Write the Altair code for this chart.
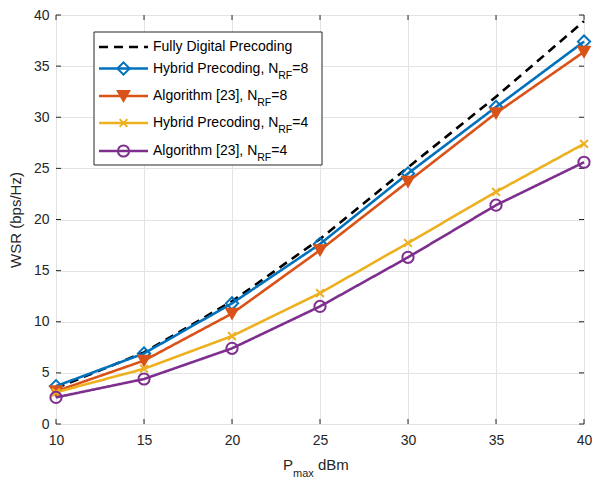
import altair as alt
import pandas as pd

# ---------------- data ----------------
p_max = [10, 15, 20, 25, 30, 35, 40]
fully_digital = [3.5, 7.0, 12.0, 18.1, 25.1, 32.0, 39.4]
hybrid_rf8 = [3.7, 6.9, 11.8, 17.6, 24.5, 31.0, 37.4]
algo_rf8 = [3.2, 6.2, 10.8, 17.0, 23.7, 30.4, 36.4]
hybrid_rf4 = [3.1, 5.4, 8.6, 12.8, 17.7, 22.7, 27.4]
algo_rf4 = [2.6, 4.4, 7.4, 11.5, 16.3, 21.4, 25.6]

x_ticks = [10, 15, 20, 25, 30, 35, 40]
y_ticks = [0, 5, 10, 15, 20, 25, 30, 35, 40]

series_keys = ["fd", "h8", "a8", "h4", "a4"]
series_values = [fully_digital, hybrid_rf8, algo_rf8, hybrid_rf4, algo_rf4]
legend_main = ["Fully Digital Precoding", "Hybrid Precoding, N", "Algorithm [23], N",
               "Hybrid Precoding, N", "Algorithm [23], N"]
legend_sub = ["", "RF", "RF", "RF", "RF"]
legend_tail = ["", "=8", "=8", "=4", "=4"]

# ---------------- styles ----------------
colors = ["#000000", "#0072BD", "#D95319", "#EDB120", "#7E2F8E"]
shapes = [None, "diamond", "triangle-down", "M-1,-1L1,1M-1,1L1,-1", "circle"]
filled = [False, False, True, False, False]
msize = [0, 150, 130, 60, 125]
FONT = "Liberation Sans"
AX = "#262626"
TOP = 7
LEFT = 48
W, H = 528, 409
OX = 8 + LEFT  # page x of plot left
OY = 8 + TOP   # page y of plot top

rows = []
for k, vals in zip(series_keys, series_values):
    for xv, yv in zip(p_max, vals):
        rows.append({"series": k, "x": xv, "y": yv})
df = pd.DataFrame(rows)
one = pd.DataFrame({"d": [0]})

xs = alt.Scale(domain=[10, 40], nice=False, zero=False)
ys = alt.Scale(domain=[0, 40], nice=False, zero=True)

x_axis = alt.Axis(values=x_ticks, grid=True, gridColor="#e3e3e3", gridWidth=1, domain=False,
                  ticks=False, tickSize=0, labelFont=FONT, labelFontSize=14, labelColor=AX,
                  labelPadding=9, title=None, labelFlush=False)
y_axis = alt.Axis(values=y_ticks, grid=True, gridColor="#e3e3e3", gridWidth=1, domain=False,
                  ticks=False, tickSize=0, labelFont=FONT, labelFontSize=14, labelColor=AX,
                  labelPadding=7, title="WSR (bps/Hz)", titleFont=FONT, titleFontSize=15,
                  titleFontWeight="normal", titleColor=AX, titleX=15 - OX, titleY=H / 2,
                  titleAngle=270, titleBaseline="middle", titleAlign="center", labelFlush=False)

AW = {" ": 278, ",": 278, "=": 584, "[": 278, "]": 278, "A": 667, "B": 667, "D": 722,
      "F": 611, "H": 722, "N": 722, "P": 667, "R": 722, "a": 556, "b": 556, "c": 500,
      "d": 556, "e": 556, "g": 556, "h": 556, "i": 222, "l": 222, "m": 833, "n": 556,
      "o": 556, "p": 556, "r": 333, "t": 278, "u": 556, "x": 500, "y": 500}


def tw(s, size):
    return sum(AW.get(c, 556) for c in s) * size / 1000.0


def X(f):
    return alt.X(f, scale=xs, axis=x_axis)


def Y(f):
    return alt.Y(f, scale=ys, axis=y_axis)


def px(page_x):
    return page_x - OX


def py(page_y):
    return page_y - OY


layers = []

# inward ticks
xt = pd.DataFrame({"t": x_ticks})
yt = pd.DataFrame({"t": y_ticks})
for y0, y1 in [(H, H - 5), (0, 5)]:
    layers.append(alt.Chart(xt).mark_rule(color=AX, strokeWidth=1).encode(
        x=X("t:Q"), y=alt.value(y0), y2=alt.value(y1)))
for x0, x1 in [(0, 5), (W, W - 5)]:
    layers.append(alt.Chart(yt).mark_rule(color=AX, strokeWidth=1).encode(
        y=Y("t:Q"), x=alt.value(x0), x2=alt.value(x1)))

# series
for i, k in enumerate(series_keys):
    base = alt.Chart(df).transform_filter(alt.datum.series == k)
    dash = [9, 6] if i == 0 else [1, 0]
    layers.append(base.mark_line(color=colors[i], strokeWidth=2.6, strokeDash=dash).encode(
        x=X("x:Q"), y=Y("y:Q")))
    if shapes[i]:
        kw = dict(shape=shapes[i], size=msize[i], strokeWidth=2, opacity=1)
        if filled[i]:
            kw.update(filled=True, fill=colors[i], stroke=colors[i], fillOpacity=1)
        else:
            kw.update(filled=False, stroke=colors[i], fill=None)
        layers.append(base.mark_point(**kw).encode(x=X("x:Q"), y=Y("y:Q")))

# legend (page coordinates converted to plot coordinates)
LX0, LX1, LY0, LY1 = px(94), px(322), py(32), py(165)
row_y = [py(v) for v in (47, 68.5, 96, 123, 151)]
layers.append(alt.Chart(one).mark_rect(fill="white", stroke=AX, strokeWidth=1).encode(
    x=alt.value(LX0), x2=alt.value(LX1), y=alt.value(LY0), y2=alt.value(LY1)))
TX = px(153)
for i in range(len(series_keys)):
    ry = row_y[i]
    dash = [9, 6] if i == 0 else [1, 0]
    layers.append(alt.Chart(one).mark_rule(color=colors[i], strokeWidth=2.6, strokeDash=dash).encode(
        x=alt.value(px(99)), x2=alt.value(px(148)), y=alt.value(ry)))
    if shapes[i]:
        kw = dict(shape=shapes[i], size=msize[i], strokeWidth=2, opacity=1)
        if filled[i]:
            kw.update(filled=True, fill=colors[i], stroke=colors[i], fillOpacity=1)
        else:
            kw.update(filled=False, stroke=colors[i], fill=None)
        layers.append(alt.Chart(one).mark_point(**kw).encode(x=alt.value(px(123.5)), y=alt.value(ry)))
    layers.append(alt.Chart(one).mark_text(
        text=legend_main[i], font=FONT, fontSize=14, color="#000000", align="left",
        baseline="middle").encode(x=alt.value(TX), y=alt.value(ry)))
    if legend_sub[i]:
        x2 = TX + tw(legend_main[i], 14)
        layers.append(alt.Chart(one).mark_text(
            text=legend_sub[i], font=FONT, fontSize=10.5, color="#000000", align="left",
            baseline="middle").encode(x=alt.value(x2), y=alt.value(ry + 7)))
        x3 = x2 + tw(legend_sub[i], 10.5)
        layers.append(alt.Chart(one).mark_text(
            text=legend_tail[i], font=FONT, fontSize=14, color="#000000", align="left",
            baseline="middle").encode(x=alt.value(x3), y=alt.value(ry)))

# x-axis title with subscript
PX = px(283)
layers.append(alt.Chart(one).mark_text(text="P", font=FONT, fontSize=15, color=AX, align="left",
                                       baseline="alphabetic").encode(x=alt.value(PX), y=alt.value(py(470))))
mx = PX + tw("P", 15)
layers.append(alt.Chart(one).mark_text(text="max", font=FONT, fontSize=11, color=AX, align="left",
                                       baseline="alphabetic").encode(x=alt.value(mx), y=alt.value(py(477))))
dx = mx + tw("max", 11) + tw(" ", 15)
layers.append(alt.Chart(one).mark_text(text="dBm", font=FONT, fontSize=15, color=AX, align="left",
                                       baseline="alphabetic").encode(x=alt.value(dx), y=alt.value(py(470))))

chart = alt.layer(*layers).properties(
    width=W, height=H,
    autosize=alt.AutoSizeParams(type="none"),
    padding={"left": LEFT, "top": TOP, "right": 8, "bottom": 55},
).configure_view(stroke=AX, strokeWidth=1, fill="white").configure(background="white")

chart.save("out.html", embed_options={"renderer": "svg", "actions": False})
